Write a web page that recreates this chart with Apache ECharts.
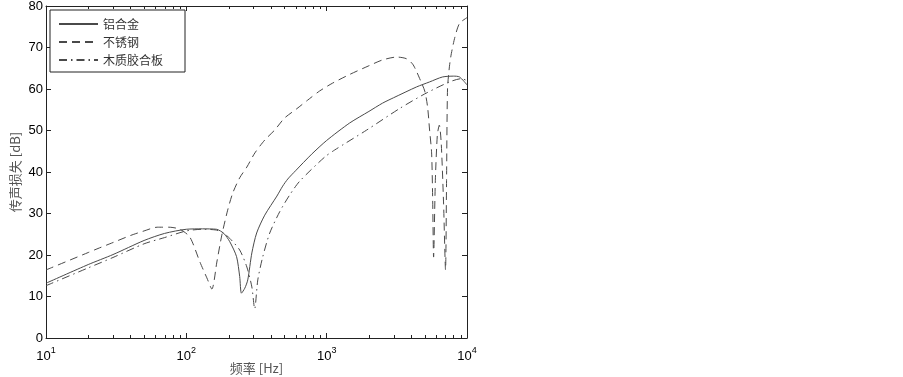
<!DOCTYPE html>
<html>
<head>
<meta charset="utf-8">
<script src="https://cdn.jsdelivr.net/npm/echarts@6/dist/echarts.min.js"></script>
<style>
html,body{margin:0;padding:0;background:#fff;}
#chart{width:903px;height:377px;}
</style>
</head>
<body>
<div id="chart"></div>
<script>
// ---- data ----
const seriesNames = ['铝合金', '不锈钢', '木质胶合板'];

const alFreq = [10, 20, 30, 50, 70, 100, 130, 164, 185, 204, 228, 240, 247, 261, 274, 293, 317, 362, 442, 486, 528, 600, 782, 1000, 1457, 2000, 2503, 3000, 4371, 5408, 6692, 8000, 8845, 10000];
const alTL   = [13.2, 17.7, 20.1, 23.5, 25.2, 26.2, 26.3, 26.2, 25.2, 23.2, 19.6, 14.8, 10.8, 12.0, 14.0, 20.5, 25.3, 29.6, 34.2, 36.6, 38.3, 40.3, 44.3, 47.6, 51.8, 54.6, 56.6, 57.9, 60.5, 61.7, 62.9, 63.1, 62.9, 61.0];

const ssFreq = [10, 20, 24, 30, 40, 50, 62, 75, 90, 106, 125, 140, 152, 165, 179, 197, 214, 240, 270, 308, 362, 426, 501, 610, 731, 889, 1100, 1457, 2000, 2500, 3160, 3700, 4100, 4400, 4600, 5000, 5236, 5413, 5595, 5690, 5780, 5950, 6150, 6350, 6550, 6800, 7030, 7150, 7265, 7500, 7740, 8200, 8845, 10000];
const ssTL   = [16.4, 20.6, 21.7, 23.0, 24.7, 25.8, 26.7, 26.7, 26.2, 24.3, 18.3, 14.5, 11.8, 18.3, 24.8, 30.8, 34.9, 38.6, 41.2, 44.6, 47.7, 50.1, 53.0, 55.2, 57.3, 59.5, 61.4, 63.5, 65.6, 67.0, 67.7, 67.3, 66.0, 64.0, 62.5, 59.5, 55.7, 50.1, 44.6, 34.0, 19.5, 38.0, 49.0, 51.3, 47.0, 33.0, 16.4, 38.0, 60.0, 65.5, 68.6, 72.5, 75.8, 77.2];

const wdFreq = [10, 20, 30, 50, 70, 100, 130, 164, 185, 204, 240, 270, 293, 307, 323, 350, 393, 464, 546, 643, 968, 1140, 1927, 3310, 4990, 7500, 9140, 10000];
const wdTL   = [12.6, 16.9, 19.4, 22.7, 24.2, 25.8, 26.2, 26.0, 25.2, 24.0, 21.2, 17.1, 12.3, 7.0, 14.0, 19.5, 25.3, 30.5, 34.5, 37.8, 43.6, 45.3, 50.1, 55.3, 58.8, 61.7, 62.5, 62.0];

const xMin = 10, xMax = 10000;
const yMin = 0, yMax = 80, yStep = 10;
const minorTicks = [20,30,40,50,60,70,80,90,200,300,400,500,600,700,800,900,2000,3000,4000,5000,6000,7000,8000,9000];

// ---- styles ----
const LINE = '#4a4a4a';
const AX = '#222';
const LATIN = 'Liberation Sans, Arial, sans-serif';
const CJK = 'Noto Sans CJK SC, sans-serif';

function zip(a, b) { return a.map((v, i) => [v, b[i]]); }

const chart = echarts.init(document.getElementById('chart'), null, {renderer: 'canvas'});

const baseX = {
  type: 'log', logBase: 10, min: xMin, max: xMax,
  axisLine: {show: true, onZero: false, lineStyle: {color: AX, width: 1}},
  axisTick: {show: true, inside: true, length: 5, lineStyle: {color: AX}},
  splitLine: {show: false}
};
const baseY = {
  type: 'value', min: yMin, max: yMax, interval: yStep,
  axisLine: {show: true, onZero: false, lineStyle: {color: AX, width: 1}},
  axisTick: {show: true, inside: true, length: 5, lineStyle: {color: AX}},
  splitLine: {show: false}
};

const option = {
  animation: false,
  backgroundColor: '#fff',
  grid: {left: 46, right: 436, top: 6, bottom: 39, containLabel: false, outerBoundsMode: 'none'},
  legend: {
    data: seriesNames,
    orient: 'vertical', left: 50, top: 10,
    itemWidth: 39, itemHeight: 14, itemGap: 6,
    padding: [8, 22, 6, 8],
    borderColor: AX, borderWidth: 1, borderRadius: 0,
    backgroundColor: '#fff',
    itemStyle: {opacity: 0},
    textStyle: {fontSize: 12, color: '#333', fontFamily: CJK}
  },
  xAxis: [
    Object.assign({}, baseX, {
      position: 'bottom',
      name: '频率 [Hz]', nameLocation: 'middle', nameGap: 24, nameMoveOverlap: false,
      nameTextStyle: {color: '#555', fontSize: 13, fontFamily: CJK},
      axisLabel: {
        margin: 8,
        formatter: function (v) { return '{b|10}{s|' + Math.round(Math.log10(v)) + '}'; },
        rich: {
          b: {fontSize: 13, color: '#000', fontFamily: LATIN, lineHeight: 17, verticalAlign: 'bottom'},
          s: {fontSize: 9, color: '#000', fontFamily: LATIN, verticalAlign: 'top'}
        }
      }
    }),
    Object.assign({}, baseX, {position: 'top', axisLabel: {show: false}})
  ],
  yAxis: [
    Object.assign({}, baseY, {
      position: 'left',
      name: '传声损失 [dB]', nameLocation: 'middle', nameGap: 24, nameMoveOverlap: false,
      nameTextStyle: {color: '#555', fontSize: 13, fontFamily: CJK},
      axisLabel: {margin: 3, fontSize: 13, color: '#000', fontFamily: LATIN}
    }),
    Object.assign({}, baseY, {position: 'right', axisLabel: {show: false}})
  ],
  series: [
    {
      name: seriesNames[0], type: 'line', data: zip(alFreq, alTL),
      showSymbol: false, symbol: 'none', smooth: 0.25, clip: true,
      lineStyle: {color: LINE, width: 1, type: 'solid'}, itemStyle: {color: LINE}
    },
    {
      name: seriesNames[1], type: 'line', data: zip(ssFreq, ssTL),
      showSymbol: false, symbol: 'none', smooth: 0.25, clip: true,
      lineStyle: {color: LINE, width: 1, type: [8, 5]}, itemStyle: {color: LINE}
    },
    {
      name: seriesNames[2], type: 'line', data: zip(wdFreq, wdTL),
      showSymbol: false, symbol: 'none', smooth: 0.25, clip: true,
      lineStyle: {color: LINE, width: 1, type: [8, 4, 1.5, 4]}, itemStyle: {color: LINE}
    },
    {
      name: 'minorTicks', type: 'custom', silent: true, clip: false, z: 10,
      data: minorTicks.map(v => [v, yMin]),
      encode: {x: 0, y: 1},
      renderItem: function (params, api) {
        const f = api.value(0);
        const b = api.coord([f, yMin]);
        const t = api.coord([f, yMax]);
        const x = Math.round(b[0]) + 0.5;
        return {
          type: 'group',
          children: [
            {type: 'line', shape: {x1: x, y1: b[1], x2: x, y2: b[1] - 3}, style: {stroke: AX, lineWidth: 1}},
            {type: 'line', shape: {x1: x, y1: t[1], x2: x, y2: t[1] + 3}, style: {stroke: AX, lineWidth: 1}}
          ]
        };
      }
    }
  ]
};
chart.setOption(option);
</script>
</body>
</html>
